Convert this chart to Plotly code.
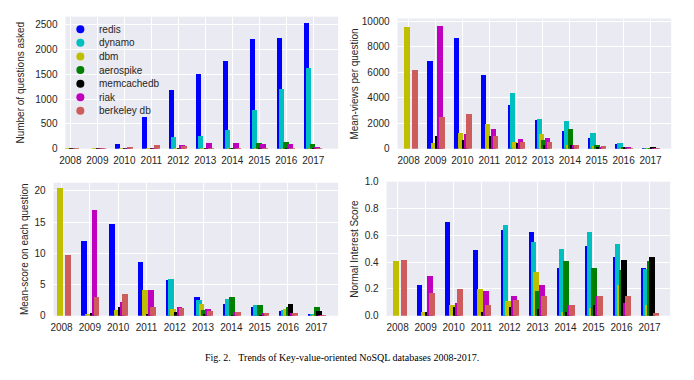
import plotly.graph_objects as go

years = [2008, 2009, 2010, 2011, 2012, 2013, 2014, 2015, 2016, 2017]
series_names = ["redis", "dynamo", "dbm", "aerospike", "memcachedb", "riak", "berkeley db"]
series_colors = ["#0000FF", "#00BFBF", "#BFBF00", "#008000", "#000000", "#BF00BF", "#CD5C5C"]

# Panel 1: Number of questions asked
q_redis = [0, 0, 100, 640, 1190, 1510, 1770, 2220, 2230, 2530]
q_dynamo = [0, 0, 0, 0, 240, 260, 380, 780, 1200, 1640]
q_dbm = [3, 4, 3, 5, 5, 4, 4, 3, 3, 3]
q_aerospike = [0, 0, 0, 0, 0, 0, 20, 130, 140, 110]
q_memcachedb = [2, 3, 4, 4, 4, 3, 3, 3, 3, 2]
q_riak = [0, 3, 10, 10, 90, 120, 130, 100, 100, 40]
q_berkeley = [10, 25, 35, 80, 60, 25, 30, 20, 20, 30]

# Panel 2: Mean-views per question
v_redis = [0, 6900, 8700, 5800, 3450, 2300, 1400, 900, 420, 120]
v_dynamo = [0, 0, 0, 0, 4450, 2350, 2200, 1250, 520, 120]
v_dbm = [9600, 450, 1300, 1950, 550, 1200, 300, 250, 100, 50]
v_aerospike = [0, 0, 0, 0, 0, 750, 1550, 300, 150, 100]
v_memcachedb = [0, 1050, 700, 1000, 450, 350, 350, 200, 150, 130]
v_riak = [0, 9700, 1200, 1550, 800, 900, 300, 200, 150, 60]
v_berkeley = [6250, 2550, 2750, 1050, 550, 550, 300, 250, 120, 50]

# Panel 3: Mean-score on each question
s_redis = [0, 12.0, 14.8, 8.6, 5.7, 3.1, 1.9, 1.5, 0.8, 0.4]
s_dynamo = [0, 0, 0, 0, 5.9, 2.5, 2.8, 1.7, 1.0, 0.4]
s_dbm = [20.5, 0.3, 1.0, 4.1, 1.2, 2.0, 0.0, 0.0, 1.2, 0.2]
s_aerospike = [0, 0, 0, 0, 0, 0.9, 3.0, 1.7, 1.5, 1.5]
s_memcachedb = [0, 0.5, 1.5, 0.3, 0.6, 0.4, 0.2, 0.2, 2.0, 0.8]
s_riak = [0, 17.0, 2.2, 4.2, 1.4, 1.1, 0.7, 0.5, 0.5, 0.2]
s_berkeley = [9.8, 3.0, 3.6, 1.4, 1.3, 0.8, 0.7, 0.5, 0.5, 0.2]

# Panel 4: Normal Interest Score
n_redis = [0, 0.23, 0.70, 0.49, 0.64, 0.63, 0.36, 0.52, 0.44, 0.36]
n_dynamo = [0, 0, 0, 0, 0.68, 0.55, 0.50, 0.63, 0.54, 0.35]
n_dbm = [0.41, 0.03, 0.08, 0.20, 0.11, 0.33, 0.03, 0.06, 0.23, 0.08]
n_aerospike = [0, 0, 0, 0, 0, 0.19, 0.41, 0.36, 0.34, 0.41]
n_memcachedb = [0, 0.03, 0.07, 0.03, 0.07, 0.05, 0.03, 0.08, 0.42, 0.44]
n_riak = [0, 0.30, 0.10, 0.19, 0.15, 0.23, 0.08, 0.15, 0.10, 0.0]
n_berkeley = [0.42, 0.17, 0.20, 0.08, 0.12, 0.15, 0.08, 0.15, 0.15, 0.02]

panels = [
    [q_redis, q_dynamo, q_dbm, q_aerospike, q_memcachedb, q_riak, q_berkeley],
    [v_redis, v_dynamo, v_dbm, v_aerospike, v_memcachedb, v_riak, v_berkeley],
    [s_redis, s_dynamo, s_dbm, s_aerospike, s_memcachedb, s_riak, s_berkeley],
    [n_redis, n_dynamo, n_dbm, n_aerospike, n_memcachedb, n_riak, n_berkeley],
]
y_titles = ["Number of questions asked", "Mean-views per question",
            "Mean-score on each question", "Normal Interest Score"]

W, H = 694, 380
# plot areas in pixels: (left, right, top, bottom)
areas = [(60, 335, 12, 148), (395, 671, 14, 148), (48, 335, 183, 320), (384, 670, 182, 320)]
xranges = [[2007.82, 2017.92], [2007.59, 2017.77], [2007.72, 2017.77], [2007.61, 2017.74]]
yranges = [[0, 2657], [0, 10230], [0, 21.3], [0, 1.0]]
yticks = [[0, 500, 1000, 1500, 2000, 2500], [0, 2000, 4000, 6000, 8000, 10000],
          [0, 5, 10, 15, 20], [0, 0.2, 0.4, 0.6, 0.8, 1.0]]
ytitle_x = [15, 352, 18, 352]

bar_width = 0.2
step = 0.075

fig = go.Figure()
font_family = "Liberation Sans, Arial, sans-serif"
text_color = "#262626"
tick_font = dict(family=font_family, size=10, color=text_color)

for p, data in enumerate(panels):
    xa = "x" if p == 0 else f"x{p+1}"
    ya = "y" if p == 0 else f"y{p+1}"
    for i, (name, color, vals) in enumerate(zip(series_names, series_colors, data)):
        fig.add_trace(go.Bar(
            x=years, y=vals, name=name, xaxis=xa, yaxis=ya,
            width=bar_width, offset=-0.325 + i * step,
            marker=dict(color=color, line=dict(width=0)),
            showlegend=False, hoverinfo="x+y+name",
        ))

layout = dict(
    width=W, height=H, margin=dict(l=0, r=0, t=0, b=0),
    paper_bgcolor="white", plot_bgcolor="#EAEAF2",
    barmode="overlay", bargap=0, showlegend=False,
)
annotations = []
shapes = []
for p in range(4):
    l, r, t, b = areas[p]
    xk = "xaxis" if p == 0 else f"xaxis{p+1}"
    yk = "yaxis" if p == 0 else f"yaxis{p+1}"
    ya = "y" if p == 0 else f"y{p+1}"
    xa = "x" if p == 0 else f"x{p+1}"
    layout[xk] = dict(
        domain=[l / W, r / W], range=xranges[p], anchor=ya,
        tickmode="array", tickvals=years, ticktext=[str(y) for y in years],
        showgrid=True, gridcolor="white", gridwidth=1, zeroline=False,
        showline=False, ticks="", tickfont=tick_font, ticklabelstandoff=4,
    )
    layout[yk] = dict(
        domain=[1 - b / H, 1 - t / H], range=yranges[p], anchor=xa,
        tickmode="array", tickvals=yticks[p],
        tickformat=".1f" if p == 3 else "d",
        showgrid=True, gridcolor="white", gridwidth=1, zeroline=False,
        showline=False, ticks="", tickfont=tick_font, ticklabelstandoff=7,
    )
    annotations.append(dict(
        text=y_titles[p], xref="paper", yref="paper",
        x=ytitle_x[p] / W, y=1 - ((t + b) / 2) / H, textangle=-90,
        showarrow=False, xanchor="center", yanchor="middle",
        font=dict(family=font_family, size=10, color=text_color),
    ))

# legend (top-left panel): circle markers with labels
for k, (name, color) in enumerate(zip(series_names, series_colors)):
    cy = 1 - (25 + 14 * k) / H
    shapes.append(dict(
        type="circle", xref="paper", yref="paper",
        xsizemode="pixel", ysizemode="pixel",
        xanchor=75 / W, yanchor=cy, x0=-4, x1=4, y0=-4, y1=4,
        fillcolor=color, line=dict(width=0),
    ))
    annotations.append(dict(
        text=name, xref="paper", yref="paper", x=92 / W, y=cy,
        showarrow=False, xanchor="left", yanchor="middle",
        font=dict(family=font_family, size=10, color=text_color),
    ))

annotations.append(dict(
    text="Fig. 2.\u00a0\u00a0\u00a0Trends of Key-value-oriented NoSQL databases 2008-2017.",
    xref="paper", yref="paper", x=339 / W, y=1 - 363 / H,
    showarrow=False, xanchor="center", yanchor="middle",
    font=dict(family="Liberation Serif, Times New Roman, serif", size=10, color="#000000"),
))
layout["annotations"] = annotations
layout["shapes"] = shapes
fig.update_layout(**layout)

post = (
    "document.documentElement.style.margin='0';"
    "document.body.style.margin='0';"
    "document.body.style.overflow='hidden';"
    "document.documentElement.style.overflow='hidden';"
    "var gd=document.querySelector('.plotly-graph-div');"
    "if(gd){gd.style.overflow='hidden';}"
)
fig.write_html("out.html", config={"displayModeBar": False}, post_script=post)
